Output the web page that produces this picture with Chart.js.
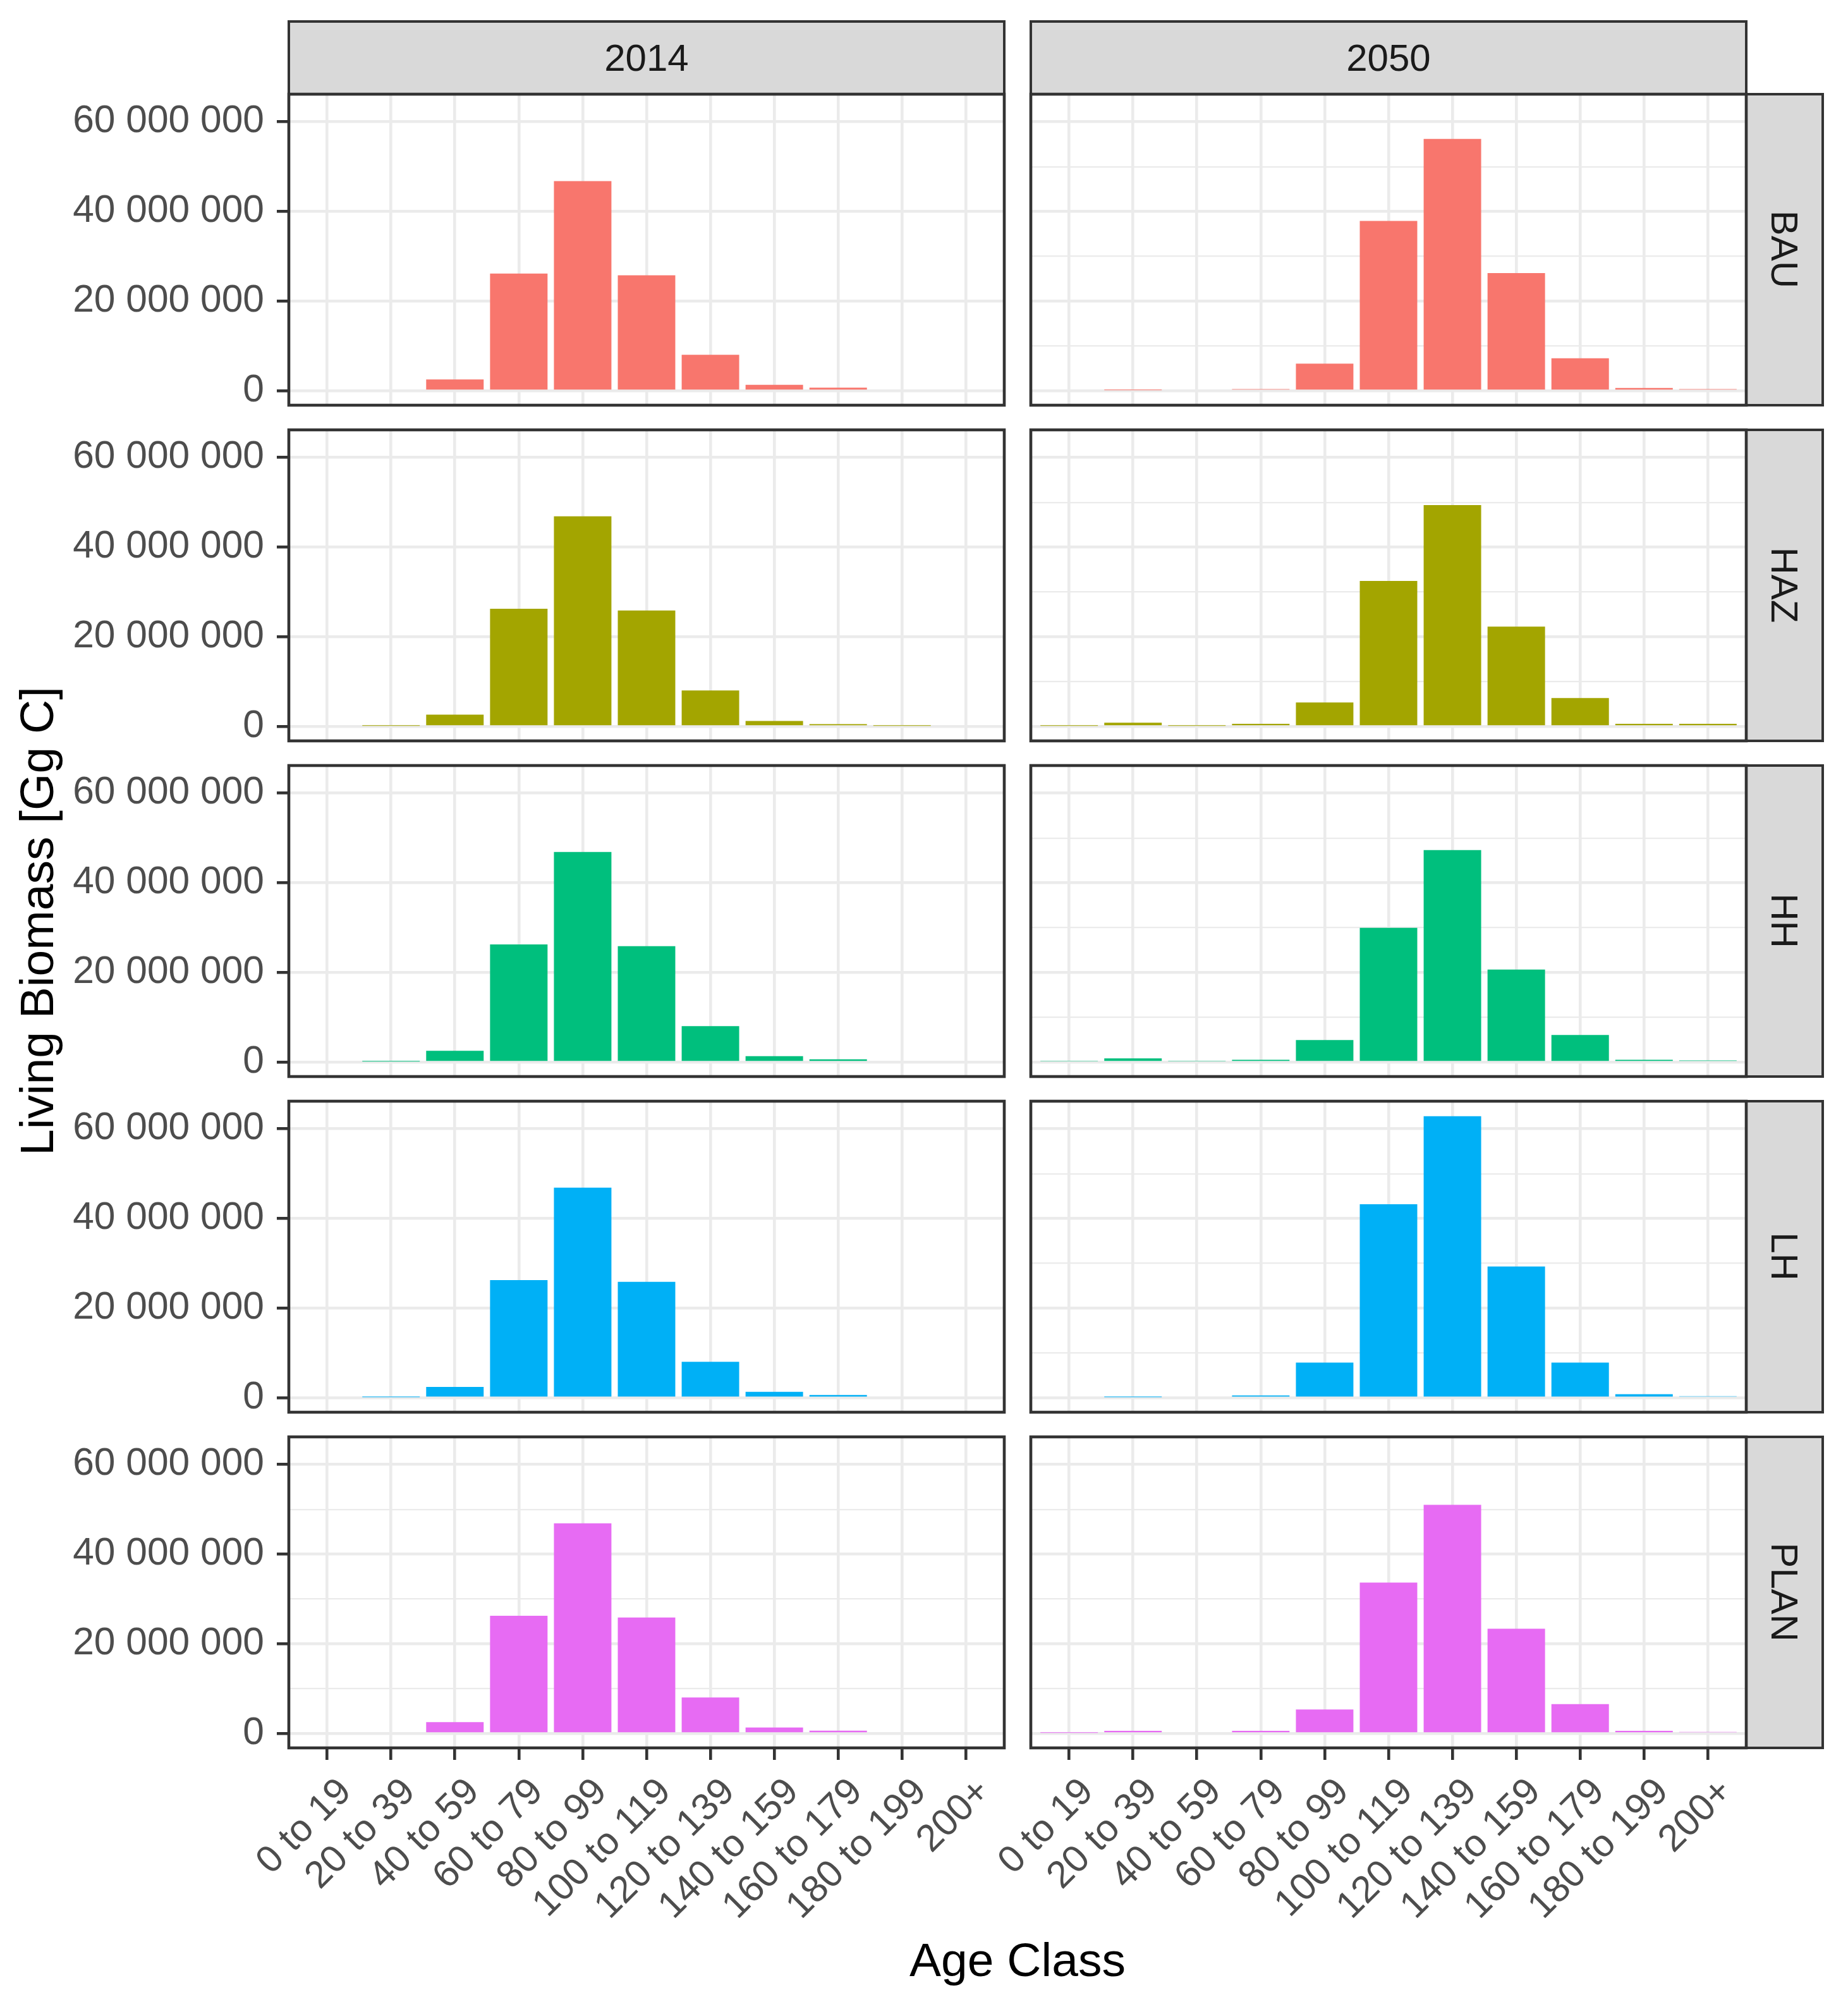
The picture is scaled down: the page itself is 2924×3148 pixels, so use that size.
<!DOCTYPE html>
<html lang="en">
<head>
<meta charset="UTF-8">
<title>Living Biomass by Age Class</title>
<script src="https://cdn.jsdelivr.net/npm/chart.js"></script>
<style>
  body { margin: 0; background: #fff; }
  #wrap { position: relative; width: 2924px; height: 3148px; background: #fff; overflow: hidden;
          font-family: "Liberation Sans", Arial, sans-serif; }
  canvas { position: absolute; }
  .strip { position: absolute; box-sizing: border-box; background: #d9d9d9; border: 4.6px solid #333;
           color: #1a1a1a; font-size: 60px; display: flex; align-items: center; justify-content: center; }
  .strip .rot { transform: rotate(90deg); white-space: nowrap; }
  .title { position: absolute; color: #000; font-size: 75px; white-space: nowrap; }
</style>
</head>
<body>
<div id="wrap"></div>
<script>
// categories
const ageClasses = ['0 to 19', '20 to 39', '40 to 59', '60 to 79', '80 to 99', '100 to 119',
                    '120 to 139', '140 to 159', '160 to 179', '180 to 199', '200+'];
const years = ['2014', '2050'];
const scenarios = ['BAU', 'HAZ', 'HH', 'LH', 'PLAN'];
const colors = ['#F8766D', '#A3A500', '#00BF7D', '#00B0F6', '#E76BF3'];

// living biomass [Gg C]
const bau2014  = [0, 0, 2.6e6, 26.2e6, 46.8e6, 25.8e6, 8.1e6, 1.4e6, 0.75e6, 0, 0];
const haz2014  = [0, 0.2e6, 2.7e6, 26.3e6, 46.9e6, 25.9e6, 8.1e6, 1.3e6, 0.6e6, 0.2e6, 0];
const hh2014   = [0, 0.2e6, 2.6e6, 26.3e6, 46.9e6, 25.9e6, 8.1e6, 1.4e6, 0.7e6, 0, 0];
const lh2014   = [0, 0.2e6, 2.5e6, 26.3e6, 46.9e6, 25.9e6, 8.1e6, 1.4e6, 0.7e6, 0, 0];
const plan2014 = [0, 0, 2.6e6, 26.3e6, 46.9e6, 25.9e6, 8.1e6, 1.4e6, 0.7e6, 0, 0];

const bau2050  = [0, 0.2e6, 0, 0.45e6, 6.1e6, 37.9e6, 56.2e6, 26.3e6, 7.3e6, 0.7e6, 0.45e6];
const haz2050  = [0.2e6, 0.9e6, 0.2e6, 0.65e6, 5.4e6, 32.5e6, 49.4e6, 22.3e6, 6.4e6, 0.65e6, 0.65e6];
const hh2050   = [0.25e6, 0.9e6, 0.25e6, 0.6e6, 5.0e6, 30.0e6, 47.3e6, 20.7e6, 6.1e6, 0.6e6, 0.45e6];
const lh2050   = [0, 0.2e6, 0, 0.6e6, 7.9e6, 43.2e6, 62.8e6, 29.3e6, 7.9e6, 0.85e6, 0.4e6];
const plan2050 = [0.2e6, 0.65e6, 0, 0.65e6, 5.4e6, 33.7e6, 51.0e6, 23.4e6, 6.6e6, 0.65e6, 0.4e6];

// y axis
const yMajor = [0, 20e6, 40e6, 60e6];
const yMinor = [10e6, 30e6, 50e6];
const yMin = -3.15e6, yMax = 66.15e6;

const panels = [
  [bau2014, bau2050],
  [haz2014, haz2050],
  [hh2014, hh2050],
  [lh2014, lh2050],
  [plan2014, plan2050]
];

// layout (px)
const colLeft = [457, 1631];
const panelW = 1132;
const panelH = 492;
const rowTop = scenarios.map((s, i) => 149 + i * 531);
const font = '"Liberation Sans", Arial, sans-serif';
const wrap = document.getElementById('wrap');

function fmt(v) {
  return String(Math.round(v)).replace(/\B(?=(\d{3})+(?!\d))/g, ' ');
}

// keep the plot area where the facet grid wants it
function noPad(s) {
  s.paddingLeft = 0; s.paddingRight = 0; s.paddingTop = 0; s.paddingBottom = 0;
}

const panelBorder = {
  id: 'panelBorder',
  afterDraw(chart) {
    const a = chart.chartArea, ctx = chart.ctx;
    ctx.save();
    ctx.strokeStyle = '#333333';
    ctx.lineWidth = 4.6;
    ctx.strokeRect(a.left, a.top, a.right - a.left, a.bottom - a.top);
    ctx.restore();
  }
};

// 45 degree labels hung from the tick ends, like ggplot's hjust = 1 / vjust = 1
const ageLabels = {
  id: 'ageLabels',
  afterDraw(chart, args, opts) {
    if (!opts.show) return;
    const xs = chart.scales.x, ctx = chart.ctx;
    const base = chart.chartArea.bottom + 19;
    ctx.save();
    ctx.fillStyle = '#4d4d4d';
    ctx.font = '60px ' + font;
    ctx.textAlign = 'right';
    ctx.textBaseline = 'alphabetic';
    xs.ticks.forEach(t => {
      const px = xs.getPixelForValue(t.value);
      ctx.save();
      ctx.translate(px + 41, base + 53);
      ctx.rotate(-Math.PI / 4);
      ctx.fillText(ageClasses[t.value], 0, 0);
      ctx.restore();
    });
    ctx.restore();
  }
};

// strips
years.forEach((y, c) => {
  const d = document.createElement('div');
  d.className = 'strip';
  d.style.left = (colLeft[c] - 2.3) + 'px';
  d.style.top = '32px';
  d.style.width = (panelW + 4.6) + 'px';
  d.style.height = (rowTop[0] - 32 + 2.3) + 'px';
  d.textContent = y;
  wrap.appendChild(d);
});
scenarios.forEach((s, r) => {
  const d = document.createElement('div');
  d.className = 'strip';
  const x0 = colLeft[1] + panelW - 2.3;
  d.style.left = x0 + 'px';
  d.style.top = (rowTop[r] - 2.3) + 'px';
  d.style.width = (2886 - x0) + 'px';
  d.style.height = (panelH + 4.6) + 'px';
  d.innerHTML = '<span class="rot">' + s + '</span>';
  wrap.appendChild(d);
});

function makePanel(r, c) {
  const left = colLeft[c], top = rowTop[r];
  const isLeft = c === 0, isBottom = r === scenarios.length - 1;
  const pad = 10;
  const padL = isLeft ? 0 : (isBottom ? 260 : pad);
  const axisW = isLeft ? left : 0;
  const axisH = isBottom ? 300 : 0;
  const cx = left - axisW - padL;
  const cw = (left - cx) + panelW + pad;
  const ch = pad + panelH + (isBottom ? axisH : pad);

  const cv = document.createElement('canvas');
  cv.width = cw; cv.height = ch;
  cv.style.left = cx + 'px';
  cv.style.top = (top - pad) + 'px';
  cv.style.width = cw + 'px';
  cv.style.height = ch + 'px';
  wrap.appendChild(cv);

  const vals = panels[r][c];
  new Chart(cv, {
    type: 'bar',
    data: {
      datasets: [{
        data: vals.map((v, i) => ({ x: i, y: v })),
        backgroundColor: colors[r],
        borderWidth: 0,
        barPercentage: 0.9,
        categoryPercentage: 1
      }]
    },
    options: {
      responsive: false,
      animation: false,
      devicePixelRatio: 1,
      layout: { padding: { left: padL, right: pad, top: pad, bottom: isBottom ? 0 : pad } },
      plugins: {
        legend: { display: false },
        tooltip: { enabled: false },
        ageLabels: { show: isBottom }
      },
      scales: {
        x: {
          type: 'linear', min: -0.6, max: 10.6, offset: false,
          afterBuildTicks: s => { s.ticks = ageClasses.map((_, i) => ({ value: i })); },
          afterFit: s => { s.height = axisH; noPad(s); },
          border: { display: false },
          grid: {
            offset: false, color: '#ebebeb', lineWidth: 4.6,
            drawTicks: isBottom, tickLength: 19, tickColor: '#333333', tickWidth: 4.6
          },
          ticks: { display: false }
        },
        y: {
          min: yMin, max: yMax,
          afterBuildTicks: s => {
            s.ticks = yMajor.concat(yMinor).sort((a, b) => a - b).map(v => ({ value: v }));
          },
          afterFit: s => { s.width = axisW; noPad(s); },
          border: { display: false },
          grid: {
            color: '#ebebeb',
            lineWidth: ctx => yMajor.includes(ctx.tick.value) ? 4.6 : 2.3,
            drawTicks: isLeft, tickLength: 19, tickWidth: 4.6,
            tickColor: ctx => yMajor.includes(ctx.tick.value) ? '#333333' : 'rgba(0,0,0,0)'
          },
          ticks: {
            display: isLeft, padding: 20, color: '#4d4d4d', font: { family: font, size: 60.5 },
            callback: v => yMajor.includes(v) ? fmt(v) : ''
          }
        }
      }
    },
    plugins: [panelBorder, ageLabels]
  });
}

scenarios.forEach((s, r) => years.forEach((y, c) => makePanel(r, c)));

// axis titles
const yt = document.createElement('div');
yt.className = 'title';
yt.textContent = 'Living Biomass [Gg C]';
yt.style.left = '58px';
yt.style.top = '1457px';
yt.style.transform = 'translate(-50%, -50%) rotate(-90deg)';
wrap.appendChild(yt);

const xt = document.createElement('div');
xt.className = 'title';
xt.textContent = 'Age Class';
xt.style.left = '1610px';
xt.style.top = '3100px';
xt.style.transform = 'translate(-50%, -50%)';
wrap.appendChild(xt);
</script>
</body>
</html>
